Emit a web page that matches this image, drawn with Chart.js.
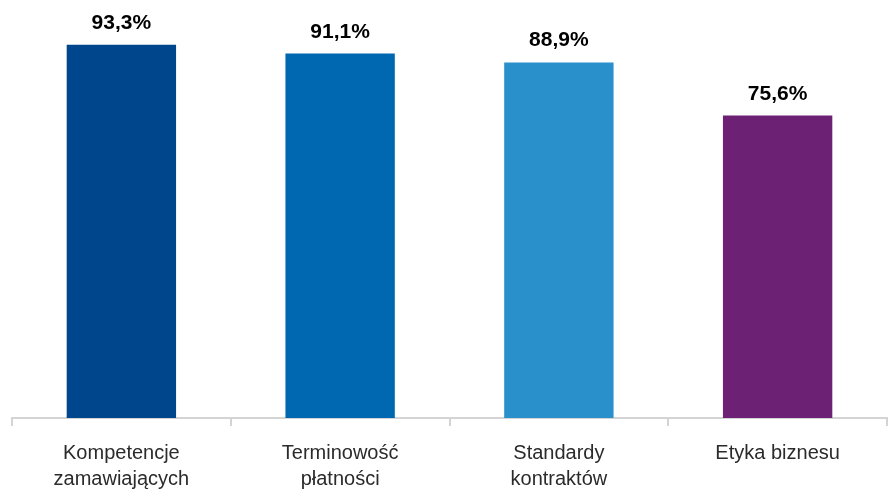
<!DOCTYPE html>
<html>
<head>
<meta charset="utf-8">
<script src="https://cdn.jsdelivr.net/npm/chart.js@4"></script>
<style>
  html, body { margin: 0; padding: 0; background: #fff; }
  #wrap { width: 894px; height: 490px; }
</style>
</head>
<body>
<div id="wrap"><canvas id="bar-chart"></canvas></div>
<script>
// Data wykresu
const categories = [
  ["Kompetencje", "zamawiających"],
  ["Terminowość", "płatności"],
  ["Standardy", "kontraktów"],
  ["Etyka biznesu"],
];
const values = [93.3, 91.1, 88.9, 75.6];
const barColors = ["#00468c", "#0068b0", "#2990cb", "#6c2174"];

// Plugin: etykiety wartości nad słupkami
const valueLabels = {
  id: "valueLabels",
  afterDatasetsDraw(chart) {
    const ctx = chart.ctx;
    const meta = chart.getDatasetMeta(0);
    ctx.save();
    ctx.font = "bold 21px 'Liberation Sans', Arial, sans-serif";
    ctx.fillStyle = "#000";
    ctx.textAlign = "center";
    ctx.textBaseline = "alphabetic";
    meta.data.forEach((bar, i) => {
      const txt = values[i].toFixed(1).replace(".", ",") + "%";
      ctx.fillText(txt, bar.x, bar.y - 16);
    });
    ctx.restore();
  },
};

const ctx = document.getElementById("bar-chart").getContext("2d");
new Chart(ctx, {
  type: "bar",
  data: {
    labels: categories,
    datasets: [
      {
        data: values,
        backgroundColor: barColors,
        barPercentage: 0.5,
        categoryPercentage: 1.0,
      },
    ],
  },
  options: {
    responsive: true,
    maintainAspectRatio: false,
    animation: false,
    layout: { padding: { left: 12, right: 7, top: 18, bottom: 0 } },
    plugins: {
      legend: { display: false },
      tooltip: { enabled: false },
    },
    scales: {
      y: {
        display: false,
        min: 0,
        max: 100,
      },
      x: {
        afterFit: (scale) => {
          scale.height = 72;
        },
        grid: {
          display: true,
          offset: true,
          drawOnChartArea: false,
          drawTicks: true,
          tickLength: 8,
          color: "#d4d4d4",
          lineWidth: 2,
        },
        border: { display: true, color: "#d4d4d4", width: 2 },
        ticks: {
          color: "#2b2b2b",
          padding: 14,
          maxRotation: 0,
          autoSkip: false,
          font: { family: "'Liberation Sans', Arial, sans-serif", size: 20, lineHeight: "26px" },
        },
      },
    },
  },
  plugins: [valueLabels],
});
</script>
</body>
</html>
